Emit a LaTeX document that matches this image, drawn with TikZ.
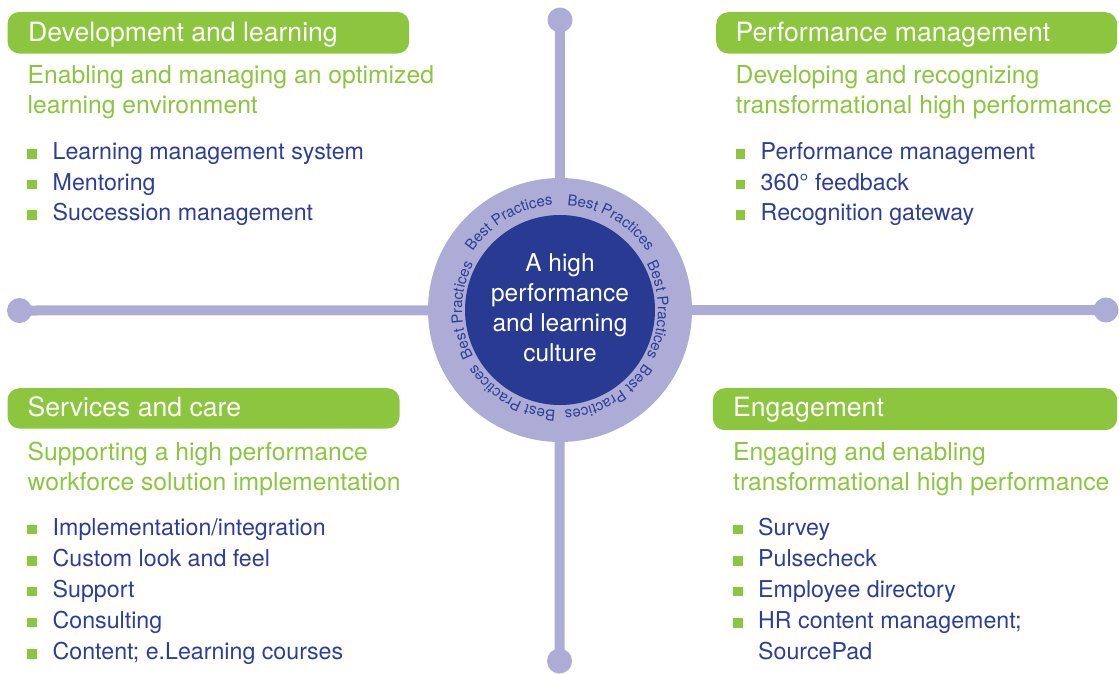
\documentclass[tikz,border=0pt]{standalone}
\usepackage{fontspec}
\setmainfont{TeX Gyre Heros}
\usetikzlibrary{decorations.text}
\definecolor{hgreen}{HTML}{8CC63F}
\definecolor{lav}{HTML}{ACACD6}
\definecolor{navy}{HTML}{283A92}
\definecolor{tblue}{HTML}{2D3E95}
\newcommand\bulitem[5]{%
  \node[sqbul] (#1s) at (#2+4.5,-#4+5.5) {};
  \node[itemtxt] (#1) at (#3,-#4) {#5};}
\begin{document}
\begin{tikzpicture}[x=1pt,y=1pt,
  hdrbox/.style={rectangle, fill=hgreen, rounded corners=12pt, draw=none, anchor=north west, inner sep=0},
  hdrtxt/.style={anchor=base west, inner sep=0, text=white, font=\fontsize{26.6}{30}\selectfont},
  subtxt/.style={anchor=base west, inner sep=0, text=hgreen, font=\fontsize{24.7}{30}\selectfont},
  itemtxt/.style={anchor=base west, inner sep=0, text=tblue, font=\fontsize{23.2}{30}\selectfont},
  sqbul/.style={rectangle, fill=hgreen, minimum size=9.5pt, inner sep=0, draw=none},
  endc/.style={circle, fill=lav, minimum size=25pt, inner sep=0, draw=none},
  coretxt/.style={anchor=base, inner sep=0, text=white, font=\fontsize{24.5}{30}\selectfont},
  spoke/.style={draw=lav, line width=10pt}]
\useasboundingbox (0,0) rectangle (1119,-673);
% cross
\node[endc] (et) at (560,-20) {};
\node[endc] (eb) at (559.5,-661) {};
\node[endc] (el) at (19.5,-310.5) {};
\node[endc] (er) at (1106,-310) {};
\draw[spoke] (et.center) -- (eb.center);
\draw[spoke] (el.center) -- (er.center);
% centre
\coordinate (c) at (560,-310);
\node[circle, fill=lav, minimum size=264pt, inner sep=0] (ring) at (c) {};
\node[circle, fill=navy, minimum size=190pt, inner sep=0] (core) at (c) {};
\foreach \a/\r in {0/98,60/105,120/105,180/98,240/100,300/100}{
  \path[decorate, decoration={text along path, text align=center,
     text={|\fontsize{15}{15}\selectfont\color{tblue}|Best Practices}}]
     (c) ++(\a+34:\r pt) arc[start angle=\a+34, end angle=\a-34, radius=\r pt];
}
\node[coretxt] (ct1) at (560,-271) {A high};
\node[coretxt] (ct2) at (560,-301.5) {performance};
\node[coretxt] (ct3) at (560,-331.5) {and learning};
\node[coretxt] (ct4) at (560,-361.5) {culture};
% top left
\node[hdrbox, minimum width=401.7pt, minimum height=41.6pt] (h1) at (7.3,-11.7) {};
\node[hdrtxt] (h1t) at (28,-41.7) {Development and learning};
\node[subtxt] (s1a) at (27.5,-83.3) {Enabling and managing an optimized};
\node[subtxt] (s1b) at (27.5,-113.3) {learning environment};
\bulitem{a1}{27.5}{52.5}{159.3}{Learning management system}
\bulitem{a2}{27.5}{52.5}{190}{Mentoring}
\bulitem{a3}{27.5}{52.5}{220.3}{Succession management}
% top right
\node[hdrbox, minimum width=401pt, minimum height=41.3pt] (h2) at (716,-12) {};
\node[hdrtxt] (h2t) at (735.5,-41.7) {Performance management};
\node[subtxt] (s2a) at (735.5,-83) {Developing and recognizing};
\node[subtxt] (s2b) at (735.5,-113) {transformational high performance};
\bulitem{b1}{736}{760.5}{159.3}{Performance management}
\bulitem{b2}{736}{760.5}{190}{360° feedback}
\bulitem{b3}{736}{760.5}{220.5}{Recognition gateway}
% bottom left
\node[hdrbox, minimum width=392pt, minimum height=40.3pt] (h3) at (7.3,-388) {};
\node[hdrtxt] (h3t) at (27.5,-416) {Services and care};
\node[subtxt] (s3a) at (27.5,-460) {Supporting a high performance};
\node[subtxt] (s3b) at (27.5,-490) {workforce solution implementation};
\bulitem{c1}{27.5}{52.5}{535}{Implementation/integration}
\bulitem{c2}{27.5}{52.5}{566.5}{Custom look and feel}
\bulitem{c3}{27.5}{52.5}{597}{Support}
\bulitem{c4}{27.5}{52.5}{628}{Consulting}
\bulitem{c5}{27.5}{52.5}{659.5}{Content; e.Learning courses}
% bottom right
\node[hdrbox, minimum width=404.3pt, minimum height=42pt] (h4) at (712.7,-388) {};
\node[hdrtxt] (h4t) at (733,-416) {Engagement};
\node[subtxt] (s4a) at (733,-460) {Engaging and enabling};
\node[subtxt] (s4b) at (733,-490) {transformational high performance};
\bulitem{d1}{733.3}{758}{535}{Survey}
\bulitem{d2}{733.3}{758}{566.5}{Pulsecheck}
\bulitem{d3}{733.3}{758}{597}{Employee directory}
\bulitem{d4}{733.3}{758}{628.3}{HR content management;}
\node[itemtxt] (d5) at (758,-659.3) {SourcePad};
\end{tikzpicture}
\end{document}
